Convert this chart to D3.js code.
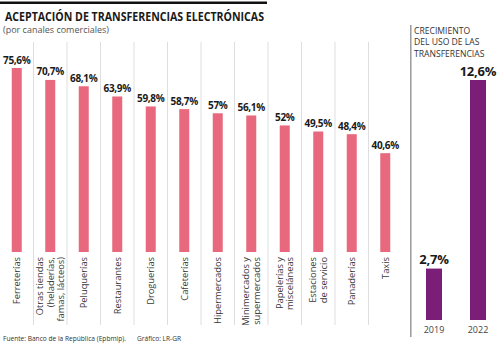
<!DOCTYPE html>
<html>
<head>
<meta charset="utf-8">
<script src="https://cdn.jsdelivr.net/npm/d3@7"></script>
<style>
  html, body { margin: 0; padding: 0; background: #fff; }
  svg { display: block; }
  text { font-family: "Open Sans", "DejaVu Sans", sans-serif; }
</style>
</head>
<body>
<svg id="chart" width="500" height="344"></svg>
<script>
// Acceptance of electronic transfers by commercial channel (%)
const categories = [
  "Ferreterías",
  "Otras tiendas\n(heladerías,\nfamas, lácteos)",
  "Peluquerías",
  "Restaurantes",
  "Droguerías",
  "Cafeterías",
  "Hipermercados",
  "Minimercados y\nsupermercados",
  "Papelerías y\nmisceláneas",
  "Estaciones\nde servicio",
  "Panaderías",
  "Taxis"
];
const acceptance = [75.6, 70.7, 68.1, 63.9, 59.8, 58.7, 57, 56.1, 52, 49.5, 48.4, 40.6];

// Growth in transfer usage (%)
const years = ["2019", "2022"];
const growth = [2.7, 12.6];

const pink = "#e8697e";
const purple = "#7a1e78";

const es = d3.formatLocale({ decimal: ",", thousands: ".", grouping: [3], currency: ["$", ""] });
const pct = v => es.format(Number.isInteger(v) ? "d" : ".1f")(v) + "%";

const svg = d3.select("#chart");

// Header
svg.append("line")
  .attr("x1", 0).attr("x2", 267).attr("y1", 2.8).attr("y2", 2.8)
  .attr("stroke", "#111").attr("stroke-width", 2.5);

svg.append("text")
  .attr("x", 5).attr("y", 21)
  .attr("font-size", 11.5).attr("font-weight", 700).attr("fill", "#1a1a1a")
  .attr("textLength", 259).attr("lengthAdjust", "spacingAndGlyphs")
  .text("ACEPTACIÓN DE TRANSFERENCIAS ELECTRÓNICAS");

svg.append("text")
  .attr("x", 3).attr("y", 32.5)
  .attr("font-size", 9).attr("fill", "#555")
  .text("(por canales comerciales)");

// Left panel scales
const x = d3.scaleBand().domain(d3.range(categories.length)).range([0, 402]).padding(0);
const y = d3.scaleLinear().domain([0, 75.6]).range([252, 68]);
const barW = 10;

// Column separators
svg.append("g").selectAll("line")
  .data(d3.range(1, categories.length))
  .join("line")
  .attr("x1", d => x(d)).attr("x2", d => x(d))
  .attr("y1", 42).attr("y2", 325)
  .attr("stroke", "#dedede").attr("stroke-width", 1);

// Bars
svg.append("g").selectAll("rect")
  .data(acceptance)
  .join("rect")
  .attr("x", (d, i) => x(i) + x.bandwidth() / 2 - barW / 2)
  .attr("y", d => y(d))
  .attr("width", barW)
  .attr("height", d => y(0) - y(d))
  .attr("fill", pink);

// Value labels
svg.append("g").selectAll("text")
  .data(acceptance)
  .join("text")
  .attr("x", (d, i) => x(i) + x.bandwidth() / 2)
  .attr("y", d => y(d) - 4.5)
  .attr("text-anchor", "middle")
  .attr("font-size", 10).attr("font-weight", 700).attr("fill", "#1a1a1a")
  .attr("letter-spacing", -0.3)
  .text(d => pct(d));

// Rotated category labels
const fs = 9.3, lh = 10.5;
const catG = svg.append("g").selectAll("g")
  .data(categories)
  .join("g")
  .attr("transform", (d, i) => `translate(${x(i) + x.bandwidth() / 2},257) rotate(-90)`);
catG.each(function (d) {
  const lines = d.split("\n");
  const t = d3.select(this).append("text")
    .attr("text-anchor", "end")
    .attr("font-size", fs).attr("fill", "#3a3a3a");
  lines.forEach((ln, k) => {
    t.append("tspan")
      .attr("x", 0)
      .attr("y", (k - (lines.length - 1) / 2) * lh + fs * 0.36)
      .text(ln);
  });
});

// Right panel
svg.append("line")
  .attr("x1", 410.8).attr("x2", 410.8).attr("y1", 25).attr("y2", 337)
  .attr("stroke", "#9a9a9a").attr("stroke-width", 1.5);

const head = svg.append("text")
  .attr("font-size", 8.6).attr("fill", "#333");
["CRECIMIENTO", "DEL USO DE LAS", "TRANSFERENCIAS"].forEach((s, k) => {
  head.append("tspan").attr("x", 414).attr("y", 34 + k * 11.3).text(s);
});

const x2 = d3.scaleBand().domain(years).range([412, 500]);
const y2 = d3.scaleLinear().domain([0, 12.6]).range([320, 80]);
const barW2 = 16;

svg.append("g").selectAll("rect")
  .data(growth)
  .join("rect")
  .attr("x", (d, i) => x2(years[i]) + x2.bandwidth() / 2 - barW2 / 2)
  .attr("y", d => y2(d))
  .attr("width", barW2)
  .attr("height", d => y2(0) - y2(d))
  .attr("fill", purple);

svg.append("g").selectAll("text")
  .data(growth)
  .join("text")
  .attr("x", (d, i) => x2(years[i]) + x2.bandwidth() / 2)
  .attr("y", d => y2(d) - 4.5)
  .attr("text-anchor", "middle")
  .attr("font-size", 13).attr("font-weight", 700).attr("fill", "#1a1a1a")
  .attr("letter-spacing", -0.2)
  .text(d => pct(d));

svg.append("g").selectAll("text")
  .data(years)
  .join("text")
  .attr("x", d => x2(d) + x2.bandwidth() / 2)
  .attr("y", 333)
  .attr("text-anchor", "middle")
  .attr("font-size", 9).attr("fill", "#444")
  .text(d => d);

// Footer
svg.append("text")
  .attr("x", 3).attr("y", 341)
  .attr("font-size", 6.6).attr("fill", "#333")
  .text("Fuente: Banco de la República (Epbmip).");
svg.append("text")
  .attr("x", 137).attr("y", 341)
  .attr("font-size", 6.6).attr("fill", "#333")
  .text("Gráfico: LR-GR");
</script>
</body>
</html>
